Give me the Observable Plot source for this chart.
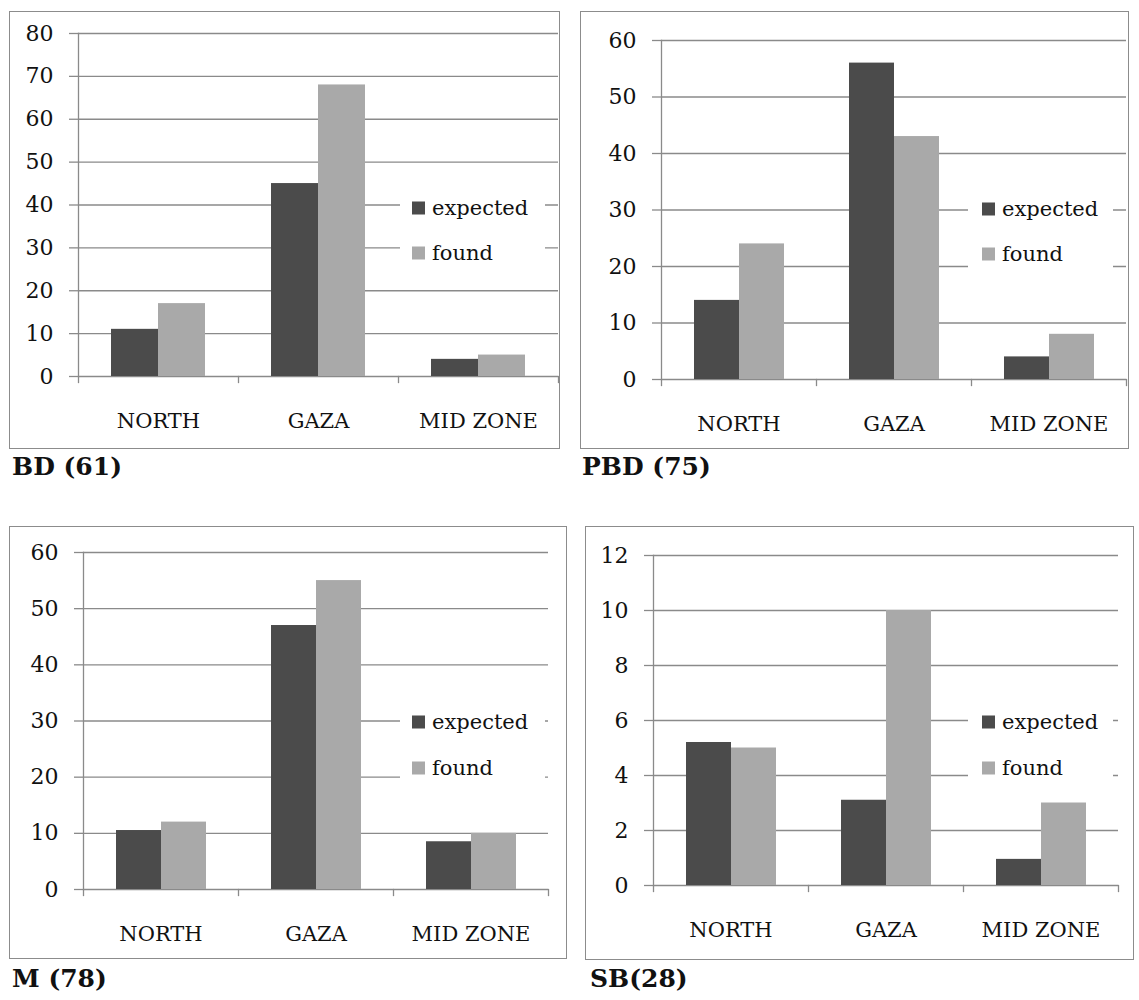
<!DOCTYPE html>
<html>
<head>
<meta charset="utf-8">
<script src="https://cdn.jsdelivr.net/npm/d3@7"></script>
<script src="https://cdn.jsdelivr.net/npm/@observablehq/plot@0.6"></script>
<style>
  html, body { margin: 0; padding: 0; background: #fff; }
  body { width: 1139px; height: 1000px; position: relative; overflow: hidden; font-family: "DejaVu Serif", serif; color: #111; }
  .plot { position: absolute; }
  .border { position: absolute; border: 1px solid #8c8c8c; box-sizing: border-box; pointer-events: none; }
  .title { position: absolute; font-weight: bold; font-size: 25px; line-height: 25px; white-space: nowrap; }
  .legend { position: absolute; background: #fff; }
  .lrow { position: absolute; font-size: 21px; line-height: 21px; white-space: nowrap; transform: translateY(-50%); display: flex; align-items: center; }
  .sw { width: 13px; height: 13px; display: inline-block; margin-right: 7px; }
</style>
</head>
<body>
<script>
// ---- data ----
const regions = ["NORTH", "GAZA", "MID ZONE"];
const seriesNames = ["expected", "found"];
const bdExpected = [11, 45, 4];
const bdFound = [17, 68, 5];
const pbdExpected = [14, 56, 4];
const pbdFound = [24, 43, 8];
const mExpected = [10.5, 47, 8.5];
const mFound = [12, 55, 10];
const sbExpected = [5.2, 3.1, 0.95];
const sbFound = [5, 10, 3];
const titles = ["BD (61)", "PBD (75)", "M (78)", "SB(28)"];
const yTicksBD = [0, 10, 20, 30, 40, 50, 60, 70, 80];
const yTicksPBD = [0, 10, 20, 30, 40, 50, 60];
const yTicksM = [0, 10, 20, 30, 40, 50, 60];
const yTicksSB = [0, 2, 4, 6, 8, 10, 12];

const colors = ["#4b4b4b", "#a9a9a9"];
const gridColor = "#8a8a8a";

// ---- layout (page pixels) ----
const panels = [
  {title: titles[0], expected: bdExpected, found: bdFound, ticks: yTicksBD,
   box: {l: 9, t: 11, r: 559, b: 448}, axisX: 77, topY: 33, zeroY: 376, plotR: 558,
   legend: {x: 412, y1: 208, y2: 253, l: 400, r: 545}, titlePos: {x: 12, y: 454}},
  {title: titles[1], expected: pbdExpected, found: pbdFound, ticks: yTicksPBD,
   box: {l: 580, t: 11, r: 1128, b: 448}, axisX: 660, topY: 40, zeroY: 379, plotR: 1127,
   legend: {x: 982, y1: 209, y2: 254, l: 968, r: 1113}, titlePos: {x: 582, y: 454}},
  {title: titles[2], expected: mExpected, found: mFound, ticks: yTicksM,
   box: {l: 9, t: 526, r: 566, b: 958}, axisX: 83, topY: 552, zeroY: 889, plotR: 548,
   legend: {x: 412, y1: 722, y2: 768, l: 400, r: 545}, titlePos: {x: 12, y: 966}},
  {title: titles[3], expected: sbExpected, found: sbFound, ticks: yTicksSB,
   box: {l: 585, t: 526, r: 1133, b: 959}, axisX: 653, topY: 555, zeroY: 885, plotR: 1118,
   legend: {x: 982, y1: 722, y2: 768, l: 968, r: 1113}, titlePos: {x: 590, y: 966}}
];

function rowsOf(expected, found) {
  return regions.flatMap((r, i) => [
    {region: r, series: seriesNames[0], value: expected[i]},
    {region: r, series: seriesNames[1], value: found[i]}
  ]);
}

for (const p of panels) {
  const W = p.box.r - p.box.l, H = p.box.b - p.box.t;
  const mL = p.axisX - p.box.l, mT = p.topY - p.box.t, mB = p.box.b - p.zeroY, mR = p.box.r - p.plotR;
  const innerH = H - mT - mB;
  const rows = rowsOf(p.expected, p.found);
  const chart = Plot.plot({
    width: W, height: H,
    marginLeft: mL, marginRight: mR, marginTop: mT, marginBottom: mB,
    style: {fontFamily: "DejaVu Serif", fontSize: "21px", color: "#111", background: "transparent", overflow: "visible"},
    fx: {domain: regions, padding: 0, label: null, axis: null},
    x: {domain: seriesNames, paddingInner: 0, paddingOuter: 0.7, axis: null},
    y: {domain: [0, p.ticks[p.ticks.length - 1]], label: null, axis: null},
    color: {domain: seriesNames, range: colors},
    marks: [
      Plot.gridY(p.ticks, {stroke: gridColor, strokeOpacity: 1, strokeWidth: 1.3}),
      Plot.axisY(p.ticks, {tickSize: 9, tickPadding: 16, stroke: gridColor, strokeWidth: 1.3, fill: "#111", label: null, fontSize: 22}),
      Plot.frame({anchor: "left", facetAnchor: "left", stroke: gridColor, strokeWidth: 1.3}),
      Plot.frame({anchor: "left", insetTop: innerH, insetBottom: -6, stroke: gridColor, strokeWidth: 1.3}),
      Plot.frame({anchor: "right", facetAnchor: "right", insetTop: innerH, insetBottom: -6, stroke: gridColor, strokeWidth: 1.3}),
      Plot.barY(rows, {fx: "region", x: "series", y: "value", fill: "series"}),
      Plot.axisFx({anchor: "bottom", tickSize: 0, tickPadding: 37, label: null, fontSize: 21, fill: "#111"})
    ]
  });
  const holder = document.createElement("div");
  holder.className = "plot";
  holder.style.left = p.box.l + "px";
  holder.style.top = p.box.t + "px";
  holder.appendChild(chart);
  document.body.appendChild(holder);

  const border = document.createElement("div");
  border.className = "border";
  border.style.left = p.box.l + "px";
  border.style.top = p.box.t + "px";
  border.style.width = (W + 1) + "px";
  border.style.height = (H + 1) + "px";
  document.body.appendChild(border);

  // legend
  const lg = document.createElement("div");
  lg.className = "legend";
  const lt = p.legend.y1 - 20, lb = p.legend.y2 + 22;
  lg.style.left = p.legend.l + "px";
  lg.style.top = lt + "px";
  lg.style.width = (p.legend.r - p.legend.l) + "px";
  lg.style.height = (lb - lt) + "px";
  document.body.appendChild(lg);
  seriesNames.forEach((s, i) => {
    const row = document.createElement("div");
    row.className = "lrow";
    row.style.left = p.legend.x + "px";
    row.style.top = (i === 0 ? p.legend.y1 : p.legend.y2) + "px";
    const sw = document.createElement("span");
    sw.className = "sw";
    sw.style.background = colors[i];
    row.appendChild(sw);
    row.appendChild(document.createTextNode(s));
    document.body.appendChild(row);
  });

  const t = document.createElement("div");
  t.className = "title";
  t.style.left = p.titlePos.x + "px";
  t.style.top = p.titlePos.y + "px";
  t.textContent = p.title;
  document.body.appendChild(t);
}
</script>
</body>
</html>
